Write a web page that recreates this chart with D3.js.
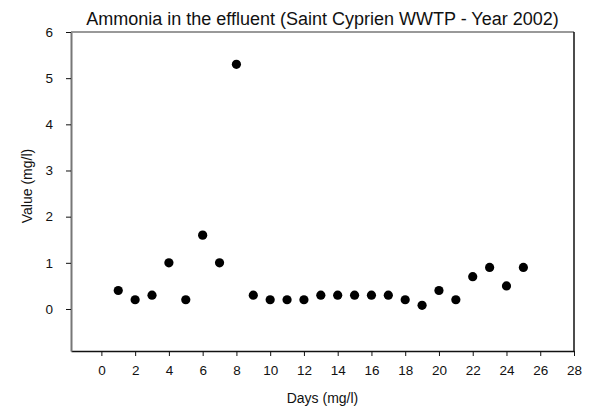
<!DOCTYPE html>
<html><head><meta charset="utf-8">
<script src="https://cdn.jsdelivr.net/npm/d3@7"></script>
<style>body{margin:0;background:#fff}svg{display:block}text{font-family:Arial,"Liberation Sans",sans-serif}</style>
</head><body>
<svg id="c" width="590" height="410"></svg>
<script>
const days = [1,2,3,4,5,6,7,8,9,10,11,12,13,14,15,16,17,18,19,20,21,22,23,24,25];
const values = [0.4,0.2,0.3,1.0,0.2,1.6,1.0,5.3,0.3,0.2,0.2,0.2,0.3,0.3,0.3,0.3,0.3,0.2,0.08,0.4,0.2,0.7,0.9,0.5,0.9];
const xTicks = [0,2,4,6,8,10,12,14,16,18,20,22,24,26,28];
const yTicks = [0,1,2,3,4,5,6];
const title = "Ammonia in the effluent (Saint Cyprien WWTP - Year 2002)";
const xLabel = "Days (mg/l)";
const yLabel = "Value (mg/l)";

const svg = d3.select("#c");
const L = 71, R = 574, T = 32, B = 351;
const x = d3.scaleLinear().domain([-1.8, 28]).range([L, R]);
const y = d3.scaleLinear().domain([-0.91, 6]).range([B, T]);
const fnt = "Arial, Liberation Sans, sans-serif";

// frame
svg.append("line").attr("x1",L).attr("x2",R).attr("y1",T).attr("y2",T).attr("stroke","#777").attr("stroke-width",1.5);
svg.append("line").attr("x1",R).attr("x2",R).attr("y1",T).attr("y2",B).attr("stroke","#111").attr("stroke-width",1.5);

const xa = svg.append("g").attr("transform",`translate(0,${B})`)
  .call(d3.axisBottom(x).tickValues(xTicks).tickFormat(d3.format("d")).tickSize(5).tickPadding(9).tickSizeOuter(0));
xa.select(".domain").attr("stroke","#111").attr("stroke-width",1.5);
xa.selectAll(".tick line").attr("stroke","#111");
xa.selectAll("text").attr("font-size",13.5).attr("fill","#111").attr("font-family",fnt);

const ya = svg.append("g").attr("transform",`translate(${L},0)`)
  .call(d3.axisLeft(y).tickValues(yTicks).tickFormat(d3.format("d")).tickSize(5).tickPadding(13).tickSizeOuter(0));
ya.select(".domain").attr("stroke","#777").attr("stroke-width",2);
ya.selectAll(".tick line").attr("stroke","#111");
ya.selectAll("text").attr("font-size",13.5).attr("fill","#111").attr("font-family",fnt);

svg.append("g").selectAll("circle").data(days).join("circle")
  .attr("cx",(d)=>x(d)).attr("cy",(d,i)=>y(values[i])).attr("r",4.6).attr("fill","#000");

svg.append("text").attr("x",(L+R)/2).attr("y",25).attr("text-anchor","middle")
  .attr("font-size",18).attr("fill","#111").text(title);
svg.append("text").attr("x",(L+R)/2).attr("y",403).attr("text-anchor","middle")
  .attr("font-size",14).attr("fill","#111").text(xLabel);
svg.append("text").attr("transform","translate(32,186) rotate(-90)").attr("text-anchor","middle")
  .attr("font-size",14).attr("fill","#111").text(yLabel);
</script>
</body></html>
